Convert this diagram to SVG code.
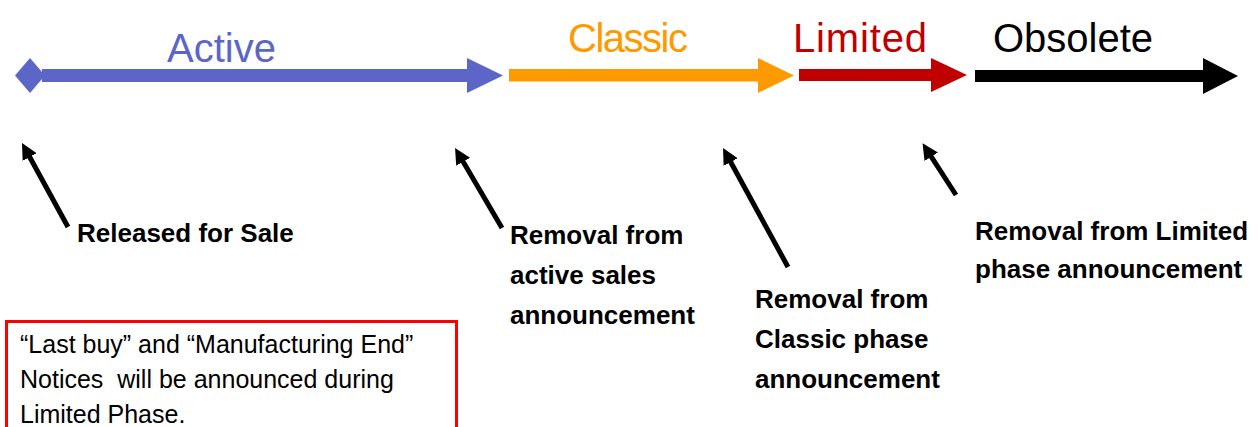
<svg xmlns="http://www.w3.org/2000/svg" width="1258" height="427" viewBox="0 0 1258 427">
<style>
.phase{font-family:"Liberation Sans",Arial,sans-serif;font-size:40px}
.lbl{font-family:"Liberation Sans",Arial,sans-serif;font-size:26px;font-weight:bold;fill:#000}
.note{font-family:"Liberation Sans",Arial,sans-serif;font-size:25px;fill:#000;white-space:pre}
.call{stroke:#000;stroke-width:5;fill:none;marker-end:url(#ah)}
</style>
<defs>
<marker id="ah" markerUnits="userSpaceOnUse" markerWidth="20" markerHeight="20" refX="6" refY="8" orient="auto">
<path d="M0,0 L16,8 L0,16 z" fill="#000"/>
</marker>
</defs>
<rect width="1258" height="427" fill="#fff"/>
<g id="active">
<polygon points="15,75.5 30,58 45,75.5 30,93" fill="#5B66C6"/>
<rect x="42" y="69" width="427" height="13" fill="#5B66C6"/>
<polygon points="467,58 503,75.5 467,93" fill="#5B66C6"/>
<text class="phase" x="167" y="62" fill="#5B66C6">Active</text>
</g>
<g id="classic">
<rect x="509" y="69" width="251" height="12.5" fill="#FF9900"/>
<polygon points="758,58 794,75.5 758,93" fill="#FF9900"/>
<text class="phase" x="568" y="52" fill="#FF9900" textLength="120">Classic</text>
</g>
<g id="limited">
<rect x="799" y="69" width="134" height="12" fill="#C00000"/>
<polygon points="931,58 967,75 931,92" fill="#C00000"/>
<text class="phase" x="793" y="52" fill="#C00000" textLength="134">Limited</text>
</g>
<g id="obsolete">
<rect x="975" y="70" width="230" height="12" fill="#000"/>
<polygon points="1203,58 1238,76 1203,94" fill="#000"/>
<text class="phase" x="993" y="52" fill="#000">Obsolete</text>
</g>
<g id="connectors">
<line class="call" x1="68" y1="227" x2="26.8" y2="151.8"/>
<line class="call" x1="502" y1="228" x2="460.1" y2="156.6"/>
<line class="call" x1="788" y1="267" x2="727.8" y2="156.8"/>
<line class="call" x1="956" y1="195" x2="928" y2="151.7"/>
</g>
<g id="released">
<text class="lbl" x="77" y="242">Released for Sale</text>
</g>
<g id="removal-active">
<text class="lbl" x="510" y="244">Removal from</text>
<text class="lbl" x="510" y="284">active sales</text>
<text class="lbl" x="510" y="324">announcement</text>
</g>
<g id="removal-classic">
<text class="lbl" x="755" y="308">Removal from</text>
<text class="lbl" x="755" y="348">Classic phase</text>
<text class="lbl" x="755" y="388">announcement</text>
</g>
<g id="removal-limited">
<text class="lbl" x="975" y="240">Removal from Limited</text>
<text class="lbl" x="975" y="278">phase announcement</text>
</g>
<g id="note">
<rect x="6.5" y="321.5" width="450" height="120" fill="none" stroke="#FF0000" stroke-width="3"/>
<text class="note" x="20" y="353">“Last buy” and “Manufacturing End”</text>
<text class="note" x="20" y="388" xml:space="preserve">Notices  will be announced during</text>
<text class="note" x="20" y="423">Limited Phase.</text>
</g>
</svg>
